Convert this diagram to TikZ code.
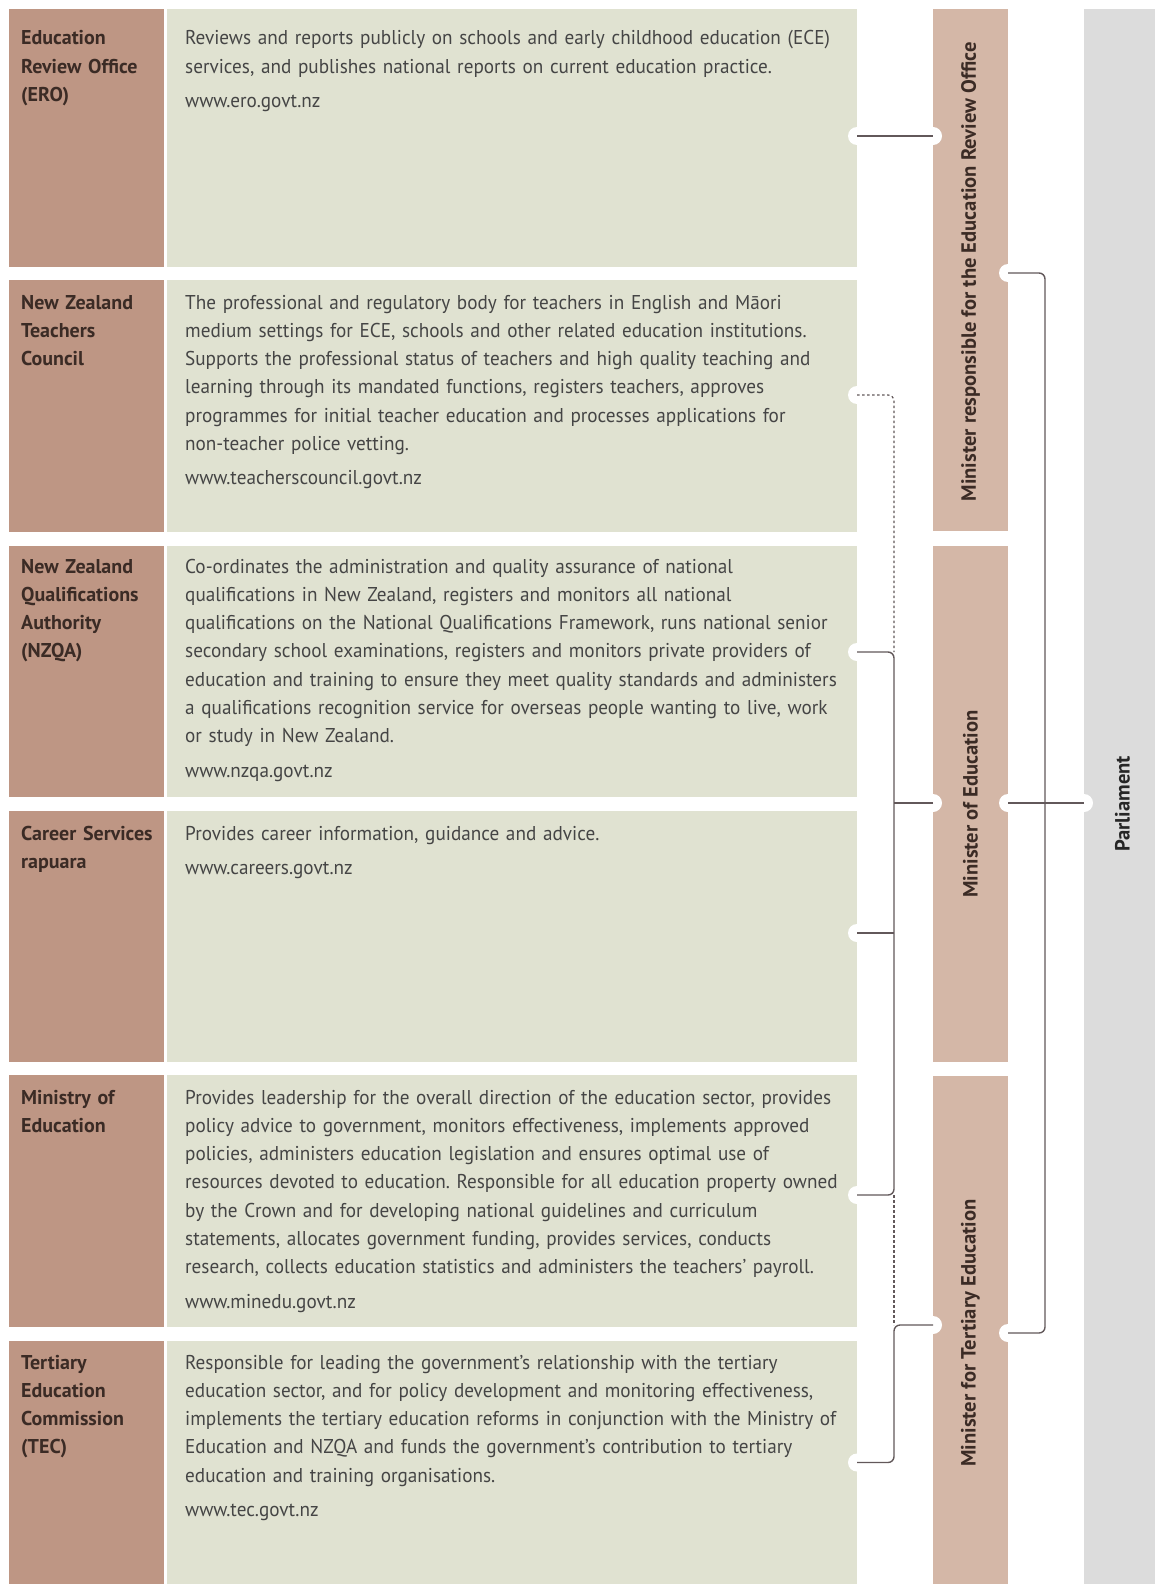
\documentclass[tikz,border=0pt]{standalone}
\usepackage{fontspec}
\setmainfont{PT Sans}[FakeStretch=0.96, BoldFeatures={FakeStretch=1.0}]
\definecolor{labbrown}{HTML}{BE9684}
\definecolor{descgreen}{HTML}{E0E2D1}
\definecolor{minbrown}{HTML}{D4B7A7}
\definecolor{parlgrey}{HTML}{DCDCDC}
\definecolor{linecol}{HTML}{62585A}
\definecolor{labtext}{HTML}{3B2B25}
\definecolor{bodytext}{HTML}{454545}
\frenchspacing
\begin{document}
\begin{tikzpicture}[x=1pt,y=-1pt,
  box/.style={rectangle, inner sep=0pt, outer sep=0pt, anchor=north west},
  labbox/.style={box, fill=labbrown, minimum width=155},
  descbox/.style={box, fill=descgreen, minimum width=690},
  minbox/.style={box, fill=minbrown, minimum width=75},
  labtxt/.style={anchor=base west, inner sep=0pt, text width=140pt, align=left,
    font=\fontsize{20}{28.3}\selectfont\bfseries, text=labtext},
  desctxt/.style={anchor=base west, inner sep=0pt, text width=680pt, align=left,
    font=\fontsize{20}{28.3}\selectfont\frenchspacing, text=bodytext},
  mintxt/.style={rotate=90, inner sep=0pt, font=\fontsize{20.6}{24}\selectfont\bfseries, text=labtext},
  conn/.style={draw=linecol, line width=1.4pt, rounded corners=6pt},
  dotconn/.style={draw=linecol, line width=1.2pt, dash pattern=on 2.5pt off 2.5pt, rounded corners=6pt},
  notch/.style={fill=white}
]
\useasboundingbox (0,0) rectangle (1155,1584);
\fill[white] (0,0) rectangle (1155,1584);

% left label boxes
\node[labbox, minimum height=258] (lab1) at (9,9) {};
\node[labbox, minimum height=252] (lab2) at (9,280) {};
\node[labbox, minimum height=251] (lab3) at (9,546) {};
\node[labbox, minimum height=251] (lab4) at (9,811) {};
\node[labbox, minimum height=252] (lab5) at (9,1075) {};
\node[labbox, minimum height=243] (lab6) at (9,1341) {};
% description boxes
\node[descbox, minimum height=258] (desc1) at (167,9) {};
\node[descbox, minimum height=252] (desc2) at (167,280) {};
\node[descbox, minimum height=251] (desc3) at (167,546) {};
\node[descbox, minimum height=251] (desc4) at (167,811) {};
\node[descbox, minimum height=252] (desc5) at (167,1075) {};
\node[descbox, minimum height=243] (desc6) at (167,1341) {};
% minister boxes
\node[minbox, minimum height=522] (minERO) at (933,9) {};
\node[minbox, minimum height=516] (minEd) at (933,546) {};
\node[minbox, minimum height=508] (minTer) at (933,1076) {};
% parliament
\node[box, fill=parlgrey, minimum width=71, minimum height=1575] (parl) at (1084,9) {};

% label texts
\node[labtxt] (t1) at (21,45) {Education\\Review Office\\(ERO)};
\node[labtxt] (t2) at (21,309) {New Zealand\\Teachers\\Council};
\node[labtxt] (t3) at (21,573) {New Zealand\\Qualifications\\Authority\\(NZQA)};
\node[labtxt] (t4) at (21,840) {Career Services\\rapuara};
\node[labtxt] (t5) at (21,1104) {Ministry of\\Education};
\node[labtxt] (t6) at (21,1369) {Tertiary\\Education\\Commission\\(TEC)};

% description texts
\node[desctxt] (d1) at (185,45) {Reviews and reports publicly on schools and early childhood education (ECE)\\
services, and publishes national reports on current education practice.\\[6pt]
www.ero.govt.nz};
\node[desctxt] (d2) at (185,309) {The professional and regulatory body for teachers in English and Māori\\
medium settings for ECE, schools and other related education institutions.\\
Supports the professional status of teachers and high quality teaching and\\
learning through its mandated functions, registers teachers, approves\\
programmes for initial teacher education and processes applications for\\
non-teacher police vetting.\\[6pt]
www.teacherscouncil.govt.nz};
\node[desctxt] (d3) at (185,573) {Co-ordinates the administration and quality assurance of national\\
qualifications in New Zealand, registers and monitors all national\\
qualifications on the National Qualifications Framework, runs national senior\\
secondary school examinations, registers and monitors private providers of\\
education and training to ensure they meet quality standards and administers\\
a qualifications recognition service for overseas people wanting to live, work\\
or study in New Zealand.\\[6pt]
www.nzqa.govt.nz};
\node[desctxt] (d4) at (185,840) {Provides career information, guidance and advice.\\[6pt]
www.careers.govt.nz};
\node[desctxt] (d5) at (185,1104) {Provides leadership for the overall direction of the education sector, provides\\
policy advice to government, monitors effectiveness, implements approved\\
policies, administers education legislation and ensures optimal use of\\
resources devoted to education. Responsible for all education property owned\\
by the Crown and for developing national guidelines and curriculum\\
statements, allocates government funding, provides services, conducts\\
research, collects education statistics and administers the teachers’ payroll.\\[6pt]
www.minedu.govt.nz};
\node[desctxt] (d6) at (185,1369) {Responsible for leading the government’s relationship with the tertiary\\
education sector, and for policy development and monitoring effectiveness,\\
implements the tertiary education reforms in conjunction with the Ministry of\\
Education and NZQA and funds the government’s contribution to tertiary\\
education and training organisations.\\[6pt]
www.tec.govt.nz};

% minister / parliament texts
\node[mintxt] (m1) at ([yshift=-2pt]minERO.center) {Minister responsible for the Education Review Office};
\node[mintxt] (m2) at (minEd.center) {Minister of Education};
\node[mintxt] (m3) at ([yshift=-3pt]minTer.center) {Minister for Tertiary Education};
\node[mintxt, text=black!85] (m4) at ([xshift=3pt]parl.center |- minEd.center) {Parliament};

% connection points
\coordinate (bA) at (894,0);
\coordinate (bP) at (1045,0);
\coordinate (c1) at ([yshift=2pt]desc1.east);
\coordinate (c2) at ([yshift=11pt]desc2.east);
\coordinate (c3) at ([yshift=19.5pt]desc3.east);
\coordinate (c4) at ([yshift=3.5pt]desc4.east);
\coordinate (c5) at ([yshift=6pt]desc5.east);
\coordinate (c6) at (desc6.east);
\coordinate (mE) at (minERO.west |- c1);
\coordinate (mEr) at ([yshift=-3pt]minERO.east);
\coordinate (mDl) at ([yshift=1pt]minEd.west);
\coordinate (mDr) at ([yshift=1pt]minEd.east);
\coordinate (mTl) at ([yshift=5pt]minTer.west);
\coordinate (mTr) at ([yshift=-3pt]minTer.east);
\coordinate (pL) at (parl.west |- mDr);

% notches
\foreach \p in {c1,c2,c3,c4,c5,c6,mE,mEr,mDl,mDr,mTl,mTr,pL}
  \fill[notch] (\p) circle (9);

% connectors
\draw[conn] (c1) -- (mE);
\draw[dotconn] (c2) -| (bA |- c3);
\draw[conn] (c3) -| (bA |- c5) -- (c5);
\draw[conn] (c4) -- (bA |- c4);
\draw[conn] (mDl) -- (bA |- mDl);
\draw[dotconn] (bA |- c5) -- (bA |- mTl);
\draw[conn] (mTl) -| (bA |- c6) -- (c6);
\draw[conn] (mEr) -| (bP |- mTr) -- (mTr);
\draw[conn] (mDr) -- (pL);
\end{tikzpicture}
\end{document}
